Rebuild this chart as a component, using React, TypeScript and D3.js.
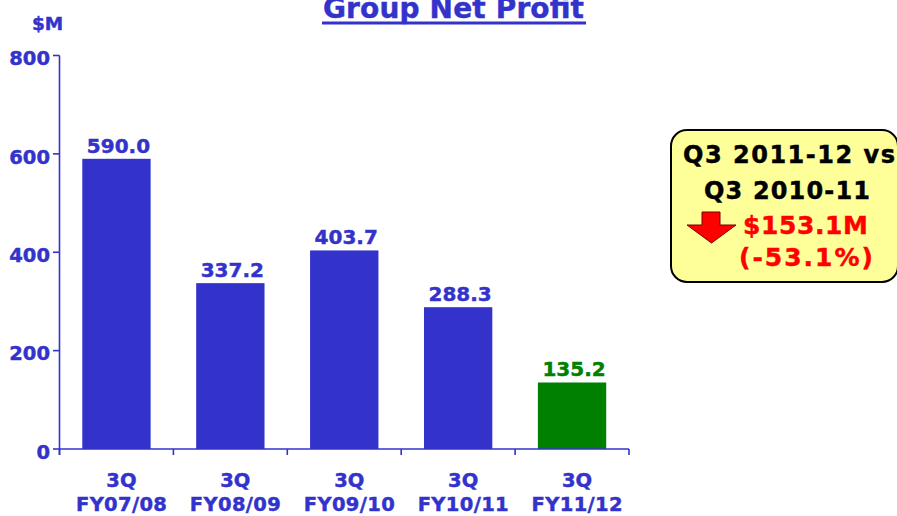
import React from "react";
import * as d3 from "d3";

const quarters = ["3Q", "3Q", "3Q", "3Q", "3Q"];
const fiscalYears = ["FY07/08", "FY08/09", "FY09/10", "FY10/11", "FY11/12"];
const netProfit = [590.0, 337.2, 403.7, 288.3, 135.2];
const yTicks = [0, 200, 400, 600, 800];
const titleText = "Group Net Profit";
const unitText = "$M";
const calloutLines = ["Q3 2011-12 vs", "Q3 2010-11"];
const calloutChange = ["$153.1M", "(-53.1%)"];

const W = 897;
const H = 516;
const BLUE = "#3333CC";
const GREEN = "#008000";
const FONT = "'DejaVu Sans', Verdana, sans-serif";

export default function App() {
  const x = d3
    .scaleBand<string>()
    .domain(fiscalYears)
    .range([59.5, 629])
    .paddingInner(0.4)
    .paddingOuter(0.2);
  const y = d3.scaleLinear().domain([0, 800]).range([449, 55.5]);
  const bw = x.bandwidth();
  const step = x.step();
  const boundaries = d3.range(fiscalYears.length + 1).map((i) => 59.5 + i * step);
  const last = fiscalYears.length - 1;
  const thick = { strokeWidth: 0.45, paintOrder: "stroke" as const };

  return (
    <svg
      width={W}
      height={H}
      style={{ position: "absolute", left: 0, top: 0, background: "#fff" }}
      fontFamily={FONT}
      fontWeight="bold"
    >
      {/* Title */}
      <text x={323} y={18} fontSize={28} fill={BLUE} stroke={BLUE} {...thick} textLength={261} lengthAdjust="spacing">
        {titleText}
      </text>
      <rect x={322} y={21.5} width={264} height={3} fill={BLUE} />

      {/* Unit */}
      <text x={32} y={29.5} fontSize={18.5} fill={BLUE} stroke={BLUE} {...thick}>
        {unitText}
      </text>

      {/* Bars */}
      {netProfit.map((v, i) => (
        <rect
          key={"b" + i}
          x={x(fiscalYears[i])!}
          y={y(v)}
          width={bw}
          height={y(0) - y(v)}
          fill={i === last ? GREEN : BLUE}
        />
      ))}
      {netProfit.map((v, i) => {
        const c = i === last ? GREEN : BLUE;
        return (
          <text
            key={"v" + i}
            x={x(fiscalYears[i])! + bw / 2 + 2}
            y={y(v) - 6}
            fontSize={20}
            textAnchor="middle"
            fill={c}
            stroke={c}
            {...thick}
          >
            {v.toFixed(1)}
          </text>
        );
      })}

      {/* Y axis */}
      <line x1={59.5} x2={59.5} y1={y(800)} y2={455} stroke={BLUE} strokeWidth={1.6} />
      {yTicks.map((t) => (
        <g key={"yt" + t}>
          <line x1={53} x2={59.5} y1={y(t)} y2={y(t)} stroke={BLUE} strokeWidth={1.6} />
          <text x={50} y={y(t) + 9.8} fontSize={19.5} textAnchor="end" fill={BLUE} stroke={BLUE} {...thick}>
            {t}
          </text>
        </g>
      ))}

      {/* X axis */}
      <line x1={59.5} x2={629} y1={y(0)} y2={y(0)} stroke={BLUE} strokeWidth={1.6} />
      {boundaries.map((bx, i) => (
        <line key={"xt" + i} x1={bx} x2={bx} y1={y(0)} y2={455} stroke={BLUE} strokeWidth={1.6} />
      ))}
      {fiscalYears.map((fy, i) => {
        const cx = x(fy)! + bw / 2 + 5;
        return (
          <g key={"xl" + i} fill={BLUE} stroke={BLUE} fontSize={19.5} {...thick}>
            <text x={cx} y={486.5} textAnchor="middle">
              {quarters[i]}
            </text>
            <text x={cx - 45.5} y={510.5} textLength={91} lengthAdjust="spacing">
              {fy}
            </text>
          </g>
        );
      })}

      {/* Callout */}
      <rect x={671} y={130} width={227} height={152} rx={16} ry={16} fill="#FFFF99" stroke="#000" strokeWidth={2} />
      <g fill="#000" stroke="#000" fontSize={24} {...thick}>
        <text x={683} y={162.5} textLength={212} lengthAdjust="spacing">
          {calloutLines[0]}
        </text>
        <text x={704} y={199} textLength={166} lengthAdjust="spacing">
          {calloutLines[1]}
        </text>
      </g>
      <path
        d="M702,212 L720,212 L720,225 L736,225 L711.5,243 L687,225 L702,225 Z"
        fill="#FF0000"
        stroke="#7a0000"
        strokeWidth={1}
      />
      <g fill="#FF0000" stroke="#FF0000" fontSize={25} {...thick}>
        <text x={743} y={234} textLength={125} lengthAdjust="spacing">
          {calloutChange[0]}
        </text>
        <text x={739} y={266} textLength={134} lengthAdjust="spacing">
          {calloutChange[1]}
        </text>
      </g>
    </svg>
  );
}
